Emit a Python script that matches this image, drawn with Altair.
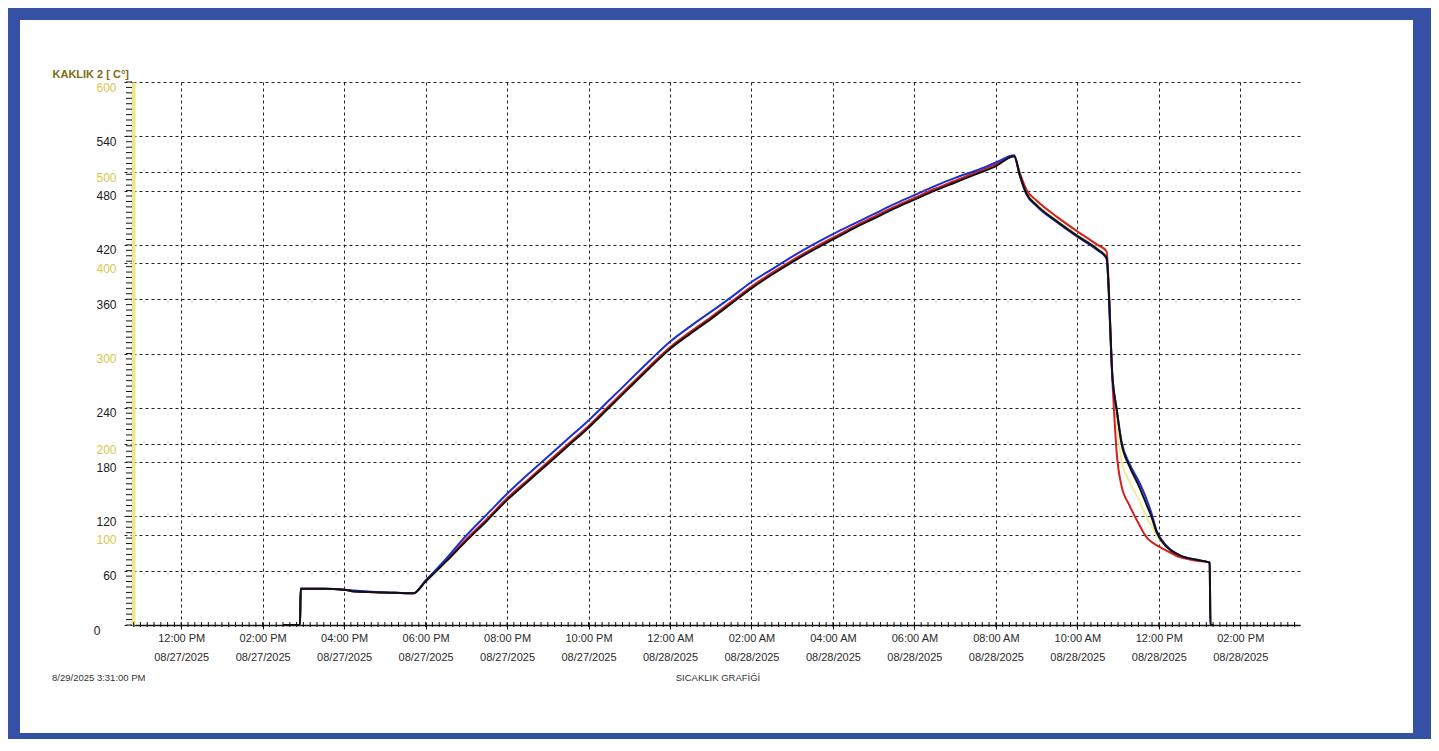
import altair as alt
import pandas as pd

# ---------------- data ----------------
times = [
    "2025-08-27T14:30:00Z", "2025-08-27T14:55:00Z", "2025-08-27T14:56:00Z", "2025-08-27T15:30:00Z",
    "2025-08-27T16:00:00Z", "2025-08-27T16:15:00Z", "2025-08-27T17:00:00Z", "2025-08-27T17:42:00Z",
    "2025-08-27T18:00:00Z", "2025-08-27T18:30:00Z", "2025-08-27T19:00:00Z", "2025-08-27T19:30:00Z",
    "2025-08-27T20:00:00Z", "2025-08-27T20:30:00Z", "2025-08-27T21:00:00Z", "2025-08-27T21:30:00Z",
    "2025-08-27T22:00:00Z", "2025-08-27T22:30:00Z", "2025-08-27T23:00:00Z", "2025-08-27T23:30:00Z",
    "2025-08-28T00:00:00Z", "2025-08-28T00:30:00Z", "2025-08-28T01:00:00Z", "2025-08-28T01:30:00Z",
    "2025-08-28T02:00:00Z", "2025-08-28T02:30:00Z", "2025-08-28T03:00:00Z", "2025-08-28T03:30:00Z",
    "2025-08-28T04:00:00Z", "2025-08-28T04:30:00Z", "2025-08-28T05:00:00Z", "2025-08-28T05:30:00Z",
    "2025-08-28T06:00:00Z", "2025-08-28T06:30:00Z", "2025-08-28T07:00:00Z", "2025-08-28T07:30:00Z",
    "2025-08-28T08:00:00Z", "2025-08-28T08:27:00Z", "2025-08-28T08:35:00Z", "2025-08-28T08:45:00Z",
    "2025-08-28T09:00:00Z", "2025-08-28T09:30:00Z", "2025-08-28T10:00:00Z", "2025-08-28T10:30:00Z",
    "2025-08-28T10:43:00Z", "2025-08-28T10:52:00Z", "2025-08-28T10:58:00Z", "2025-08-28T11:05:00Z",
    "2025-08-28T11:17:00Z", "2025-08-28T11:31:00Z", "2025-08-28T11:43:00Z", "2025-08-28T11:49:00Z",
    "2025-08-28T11:57:00Z", "2025-08-28T12:12:00Z", "2025-08-28T12:31:00Z", "2025-08-28T12:56:00Z",
    "2025-08-28T13:15:00Z", "2025-08-28T13:16:00Z", "2025-08-28T13:20:00Z",
]

black = [0, 0, 40, 40, 39, 37, 36, 35, 48, 70, 93, 115, 138, 158, 178, 198, 218, 240, 262, 284,
         305, 322, 338, 355, 372, 387, 401, 414, 426, 438, 449, 460, 470, 480, 489, 498, 507, 518,
         498, 477, 464, 446, 430, 415, 406, 271, 238, 201, 175, 153, 131, 120, 102, 86, 77, 72, 69, 0, 0]
blue = [0, 0, 40, 40, 39, 38, 36, 35, 49, 73, 99, 122, 145, 166, 186, 206, 226, 248, 270, 292,
        313, 330, 346, 362, 379, 393, 407, 420, 432, 443, 454, 465, 475, 485, 494, 502, 511, 519,
        497, 476, 463, 445, 429, 414, 405, 271, 238, 203, 178, 158, 137, 124, 104, 87, 77, 72, 69, 0, 0]
red = [0, 0, 40, 40, 39, 37, 36, 35, 49, 71, 95, 117, 140, 160, 180, 200, 220, 242, 264, 286,
       307, 324, 340, 357, 374, 389, 403, 416, 428, 440, 451, 462, 472, 482, 491, 500, 509, 518,
       500, 481, 469, 451, 435, 420, 413, 265, 190, 154, 132, 111, 96, 92, 88, 82, 75, 71, 69, 0, 0]
yellow = [0, 0, 40, 40, 39, 37, 36, 35, 48, 70, 94, 116, 139, 159, 179, 199, 219, 241, 263, 285,
          306, 323, 339, 356, 373, 388, 402, 415, 427, 439, 450, 461, 471, 481, 490, 499, 508, 518,
          499, 478, 465, 447, 431, 416, 407, 271, 225, 182, 158, 138, 118, 110, 98, 86, 77, 72, 69, 0, 0]

series_names = ["Sarı", "Kırmızı", "Mavi", "Siyah"]
series_values = [yellow, red, blue, black]
series_colors = ["#efeca0", "#d61f1f", "#1c2fd0", "#111111"]

# axis ticks / labels
x_tick_hours = [(27, 12), (27, 14), (27, 16), (27, 18), (27, 20), (27, 22), (28, 0),
                (28, 2), (28, 4), (28, 6), (28, 8), (28, 10), (28, 12), (28, 14)]
y_ticks = [0, 60, 100, 120, 180, 200, 240, 300, 360, 400, 420, 480, 500, 540, 600]
y_title = "KAKLIK 2 [ C°]"
footer_left = "8/29/2025  3:31:00 PM"
footer_title = "SICAKLIK GRAFİĞİ"

# ---------------- layout ----------------
W, H = 1167, 543
PAD = {"left": 125, "top": 74, "right": 131, "bottom": 114}
FRAME = "#3451a6"
FONT = "Liberation Sans"

x_enc = alt.X(
    "t:T",
    scale=alt.Scale(
        type="utc",
        domain=[alt.DateTime(year=2025, month=8, date=27, hours=10, minutes=49, utc=True),
                alt.DateTime(year=2025, month=8, date=28, hours=15, minutes=28, utc=True)],
    ),
    axis=alt.Axis(
        values=[alt.DateTime(year=2025, month=8, date=d, hours=h, utc=True) for d, h in x_tick_hours],
        tickCount=60,
        labelExpr="[utcFormat(datum.value, '%I:%M %p'), utcFormat(datum.value, '%m/%d/%Y')]",
        title=None,
        grid=True, gridDash=[3, 3], gridColor="#222222", gridWidth=1,
        domainColor="#111111", domainWidth=1.5,
        tickColor="#111111", tickSize=4,
        labelPadding=3, labelLineHeight=19, labelFontSize=11, labelFont=FONT,
        labelColor="#2a2a2a", labelFlush=False, labelOverlap=False,
    ),
)
y_enc = alt.Y(
    "v:Q",
    scale=alt.Scale(domain=[0, 600], nice=False, zero=True),
    axis=alt.Axis(
        values=y_ticks,
        tickCount=60,
        title=y_title, titleAngle=0, titleAlign="left", titleBaseline="alphabetic",
        titleX=-81, titleY=-5, titleFontSize=11, titleFont=FONT, titleFontWeight="bold",
        titleColor="#7d6c12",
        grid=True, gridDash=[3, 3], gridColor="#222222", gridWidth=1,
        domainColor="#ece78a", domainWidth=4,
        tickColor="#222222", tickSize=10, tickDash=[3, 3],
        labelPadding={"expr": "datum.value == 0 ? 23 : 7"},
        labelBaseline="top", labelFontSize=12, labelFont=FONT,
        labelColor={"expr": "datum.value > 0 && datum.value % 100 == 0 ? '#d8c84a' : '#1a1a1a'"},
        labelOverlap=False, labelFlush=False,
    ),
)

layers = []
for name, vals, col in zip(series_names, series_values, series_colors):
    df = pd.DataFrame({"t": times, "v": vals, "s": name})
    layers.append(
        alt.Chart(df).mark_line(color=col, strokeWidth=2, interpolate="monotone").encode(x=x_enc, y=y_enc)
    )

# minor ticks on axes
y_minor = pd.DataFrame({"v": list(range(0, 601, 6))})
y_minor_layer = alt.Chart(y_minor).mark_rule(color="#111111", strokeWidth=1).encode(
    y=alt.Y("v:Q"), x=alt.value(-7), x2=alt.value(-1)
)
x_minor = pd.DataFrame({"t": pd.date_range("2025-08-27 10:50", "2025-08-28 15:20", freq="10min")
                        .strftime("%Y-%m-%dT%H:%M:00Z")})
x_minor_layer = alt.Chart(x_minor).mark_rule(color="#111111", strokeWidth=1).encode(
    x=alt.X("t:T"), y=alt.value(H - 3), y2=alt.value(H + 2)
)

# footer texts
dummy = pd.DataFrame({"a": [0]})
left_text = alt.Chart(dummy).mark_text(
    text=footer_left, align="left", baseline="middle", fontSize=9.5, font=FONT, color="#333333"
).encode(x=alt.value(-81), y=alt.value(596))
title_text = alt.Chart(dummy).mark_text(
    text=footer_title, align="center", baseline="middle", fontSize=9.5, font=FONT, color="#333333"
).encode(x=alt.value(585), y=alt.value(596))

# blue frame (decoration)
def band(x1, x2, y1, y2):
    return alt.Chart(dummy).mark_rect(color=FRAME).encode(
        x=alt.value(x1), x2=alt.value(x2), y=alt.value(y1), y2=alt.value(y2)
    )

frame = [
    band(-125, -113, -74, 660),
    band(-125, 1298, -74, -62),
    band(1280, 1298, -74, 660),
    band(-125, 1298, 651, 660),
]

chart = alt.layer(*layers, y_minor_layer, x_minor_layer, left_text, title_text, *frame).properties(
    width=W, height=H,
    autosize=alt.AutoSizeParams(type="none"),
    padding=PAD,
    background="white",
).configure_view(stroke=None)

chart.save("out.html", embed_options={"renderer": "svg", "actions": False})
